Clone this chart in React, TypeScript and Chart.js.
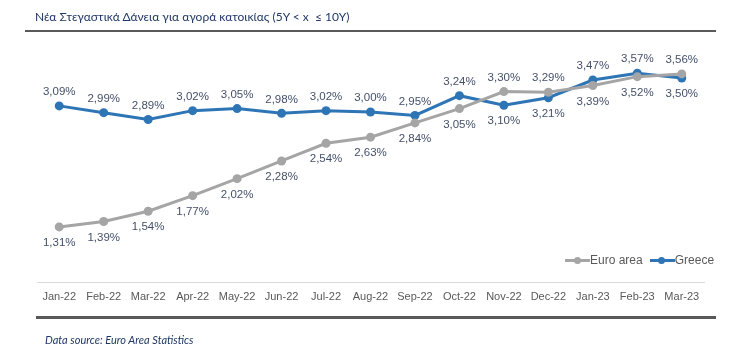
import React, { useEffect, useRef } from "react";
import { Chart, registerables } from "chart.js";

Chart.register(...registerables);

const categories = ["Jan-22", "Feb-22", "Mar-22", "Apr-22", "May-22", "Jun-22", "Jul-22", "Aug-22", "Sep-22", "Oct-22", "Nov-22", "Dec-22", "Jan-23", "Feb-23", "Mar-23"];
const euroArea = [1.31, 1.39, 1.54, 1.77, 2.02, 2.28, 2.54, 2.63, 2.84, 3.05, 3.30, 3.29, 3.39, 3.52, 3.56];
const greece = [3.09, 2.99, 2.89, 3.02, 3.05, 2.98, 3.02, 3.00, 2.95, 3.24, 3.10, 3.21, 3.47, 3.57, 3.50];
// label placement: true = above the point
const euroAbove = [false, false, false, false, false, false, false, false, false, false, true, true, false, false, true];
const greeceAbove = [true, true, true, true, true, true, true, true, true, true, false, false, true, true, false];

const EURO = "#a5a5a5";
const GR = "#2e75b6";

const labelPlugin = {
  id: "valueLabels",
  afterDatasetsDraw(chart: any) {
    const ctx = chart.ctx;
    ctx.save();
    ctx.font = "11.5px 'Liberation Sans', Arial, sans-serif";
    ctx.fillStyle = "#44506a";
    ctx.textAlign = "center";
    ctx.textBaseline = "middle";
    chart.data.datasets.forEach((ds: any, di: number) => {
      const meta = chart.getDatasetMeta(di);
      const aboveArr = di === 0 ? euroAbove : greeceAbove;
      meta.data.forEach((pt: any, i: number) => {
        const v = ds.data[i];
        const txt = v.toFixed(2).replace(".", ",") + "%";
        const dy = aboveArr[i] ? -14 : 16;
        ctx.fillText(txt, pt.x, pt.y + dy);
      });
    });
    ctx.restore();
  },
};

function LegendItem({ color, label }: { color: string; label: string }) {
  return (
    <div style={{ display: "flex", alignItems: "center", marginLeft: 7 }}>
      <div style={{ position: "relative", width: 25, height: 10 }}>
        <div style={{ position: "absolute", left: 0, right: 0, top: 3.5, height: 3, background: color }} />
        <div style={{ position: "absolute", left: 8.5, top: 1.5, width: 7, height: 7, borderRadius: "50%", background: color }} />
      </div>
      <span>{label}</span>
    </div>
  );
}

export default function App() {
  const ref = useRef<HTMLCanvasElement>(null);
  useEffect(() => {
    if (!ref.current) return;
    const chart = new Chart(ref.current, {
      type: "line",
      data: {
        labels: categories,
        datasets: [
          {
            label: "Euro area",
            data: euroArea,
            borderColor: EURO,
            backgroundColor: EURO,
            borderWidth: 3,
            pointRadius: 4.5,
            pointBackgroundColor: EURO,
            pointBorderWidth: 0,
            tension: 0,
          },
          {
            label: "Greece",
            data: greece,
            borderColor: GR,
            backgroundColor: GR,
            borderWidth: 3,
            pointRadius: 4.5,
            pointBackgroundColor: GR,
            pointBorderWidth: 0,
            tension: 0,
          },
        ],
      },
      options: {
        animation: false,
        responsive: false,
        maintainAspectRatio: false,
        devicePixelRatio: 1,
        layout: { padding: { left: 37, right: 42, top: 44, bottom: 0 } },
        plugins: { legend: { display: false }, tooltip: { enabled: false } },
        scales: {
          x: {
            offset: true,
            grid: { display: false, drawTicks: false },
            border: { display: true, color: "#d9d9d9", width: 1 },
            ticks: {
              color: "#595959",
              font: { family: "'Liberation Sans', Arial, sans-serif", size: 11 },
              padding: 8,
              maxRotation: 0,
              autoSkip: false,
            },
            afterFit: (axis: any) => {
              axis.height = 73;
            },
          },
          y: {
            display: false,
            min: 0.5,
            max: 4.0,
          },
        },
      },
      plugins: [labelPlugin],
    });
    return () => chart.destroy();
  }, []);

  return (
    <div style={{ position: "absolute", left: 0, top: 0, width: 746, height: 355, background: "#fff", overflow: "hidden" }}>
      <canvas ref={ref} width={746} height={355} style={{ position: "absolute", left: 0, top: 0 }} />
      <div
        style={{
          position: "absolute",
          left: 35,
          top: 9,
          fontFamily: "Lato, 'Open Sans', sans-serif",
          fontSize: 12,
          color: "#203864",
          whiteSpace: "pre",
        }}
      >
        {"Νέα Στεγαστικά Δάνεια για αγορά κατοικίας (5Y < x  ≤ 10Y)"}
      </div>
      <div style={{ position: "absolute", left: 25, top: 30, width: 691, height: 2, background: "#595959" }} />
      <div style={{ position: "absolute", left: 36, top: 316, width: 680, height: 3, background: "#595959" }} />
      <div
        style={{
          position: "absolute",
          left: 45,
          top: 333,
          fontFamily: "Lato, 'Open Sans', sans-serif",
          fontStyle: "italic",
          fontSize: 11,
          color: "#203864",
        }}
      >
        Data source: Euro Area Statistics
      </div>
      <div
        style={{
          position: "absolute",
          left: 558,
          top: 253,
          display: "flex",
          fontFamily: "'Liberation Sans', Arial, sans-serif",
          fontSize: 12,
          color: "#595959",
        }}
      >
        <LegendItem color={EURO} label="Euro area" />
        <LegendItem color={GR} label="Greece" />
      </div>
    </div>
  );
}
